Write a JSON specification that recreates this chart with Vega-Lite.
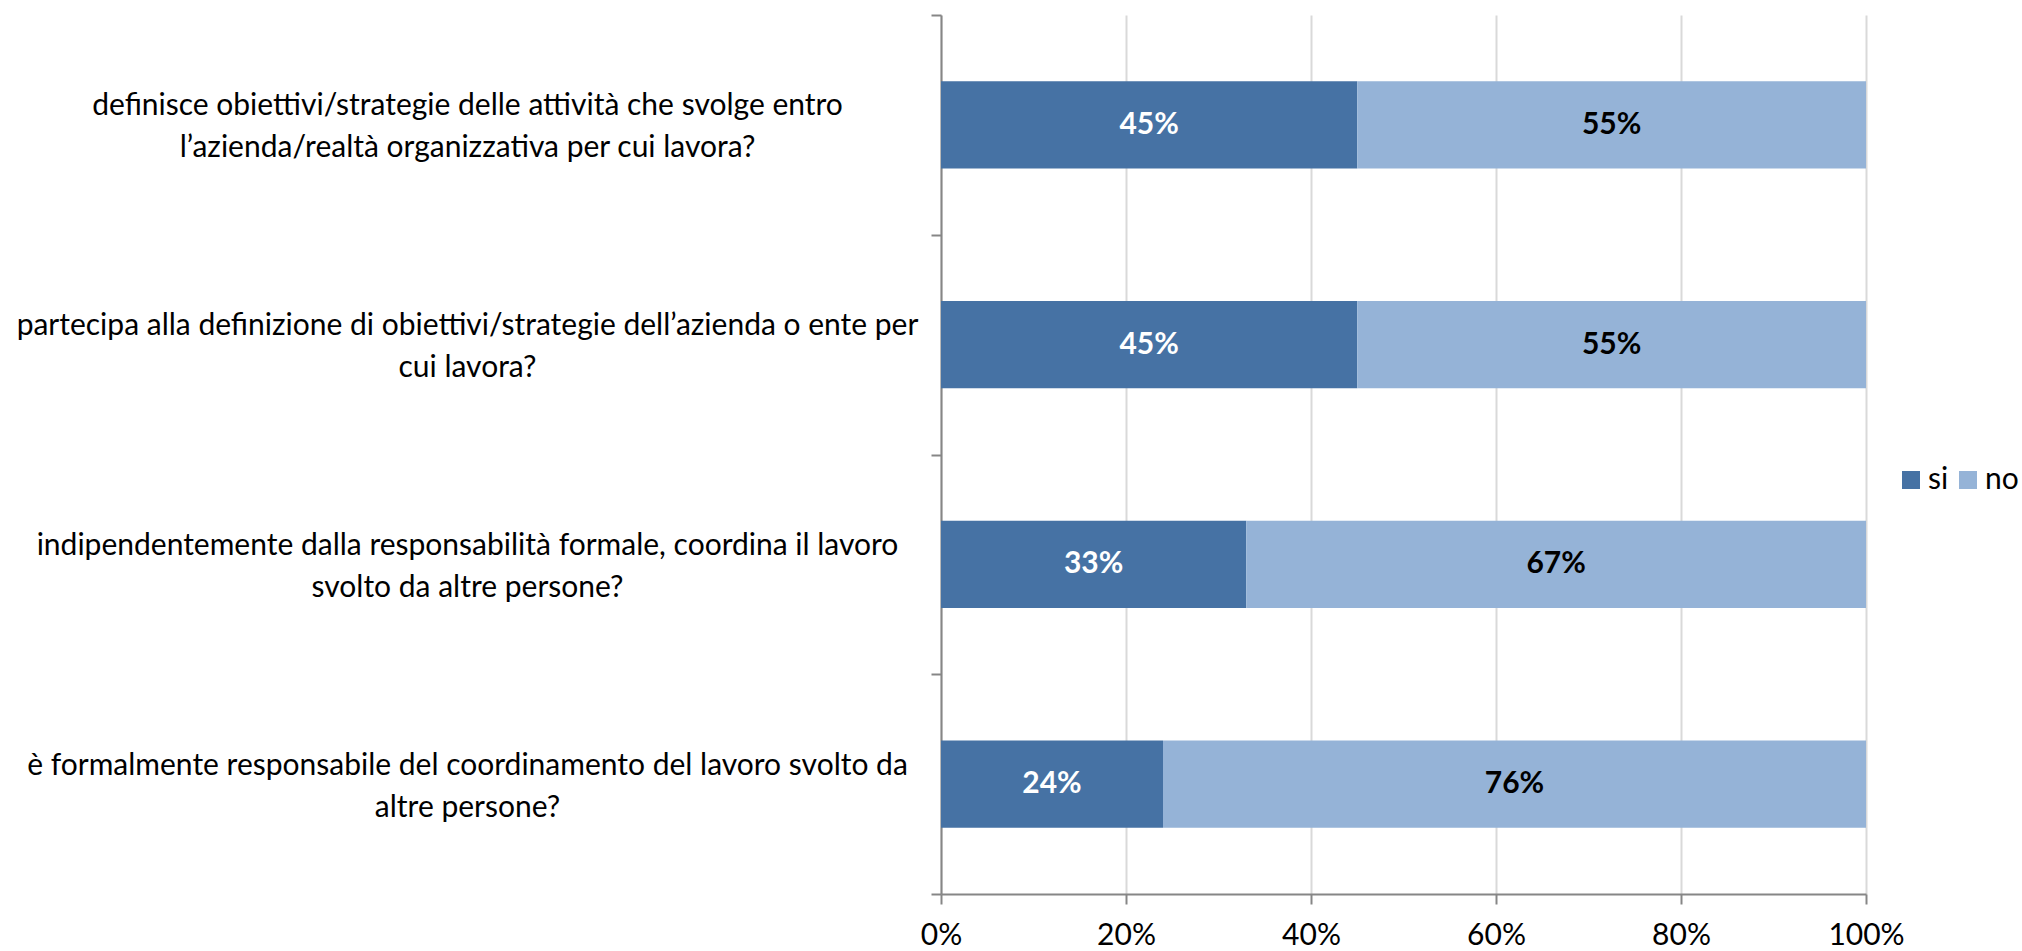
{
  "$schema": "https://vega.github.io/schema/vega-lite/v6.json",
  "autosize": "none",
  "width": 925,
  "height": 879,
  "padding": {"left": 941, "top": 15, "right": 156, "bottom": 57},
  "background": "white",
  "config": {
    "view": {"stroke": null},
    "font": "Lato"
  },
  "data": {
    "values": [
      {"question": "definisce obiettivi/strategie delle attività che svolge entro\nl’azienda/realtà organizzativa per cui lavora?", "answer": "si", "value": 0.45},
      {"question": "definisce obiettivi/strategie delle attività che svolge entro\nl’azienda/realtà organizzativa per cui lavora?", "answer": "no", "value": 0.55},
      {"question": "partecipa alla definizione di obiettivi/strategie dell’azienda o ente per\ncui lavora?", "answer": "si", "value": 0.45},
      {"question": "partecipa alla definizione di obiettivi/strategie dell’azienda o ente per\ncui lavora?", "answer": "no", "value": 0.55},
      {"question": "indipendentemente dalla responsabilità formale, coordina il lavoro\nsvolto da altre persone?", "answer": "si", "value": 0.33},
      {"question": "indipendentemente dalla responsabilità formale, coordina il lavoro\nsvolto da altre persone?", "answer": "no", "value": 0.67},
      {"question": "è formalmente responsabile del coordinamento del lavoro svolto da\naltre persone?", "answer": "si", "value": 0.24},
      {"question": "è formalmente responsabile del coordinamento del lavoro svolto da\naltre persone?", "answer": "no", "value": 0.76}
    ]
  },
  "transform": [
    {"calculate": "datum.answer === 'si' ? 0 : 1", "as": "ord"},
    {"stack": "value", "groupby": ["question"], "sort": [{"field": "ord", "order": "ascending"}], "as": ["x0", "x1"]},
    {"calculate": "(datum.x0 + datum.x1) / 2", "as": "mid"}
  ],
  "encoding": {
    "y": {
      "field": "question",
      "type": "nominal",
      "sort": null,
      "title": null,
      "scale": {"paddingInner": 0, "paddingOuter": 0},
      "axis": {
        "domainColor": "#868686",
        "domainWidth": 2,
        "tickColor": "#868686",
        "tickWidth": 2,
        "tickSize": 10,
        "tickBand": "extent",
        "labelExpr": "isValid(datum.value) ? split(datum.value, '\\n') : ''",
        "labelAlign": "center",
        "labelBaseline": "middle",
        "labelLineHeight": 42,
        "labelOffset": -19,
        "labelPadding": 464,
        "labelLimit": 2000,
        "labelFontSize": 30,
        "labelColor": "#000000"
      }
    }
  },
  "layer": [
    {
      "mark": {"type": "bar", "height": {"band": 0.396}},
      "encoding": {
        "x": {
          "field": "x0",
          "type": "quantitative",
          "scale": {"domain": [0, 1], "nice": false},
          "title": null,
          "axis": {
            "format": ".0%",
            "values": [0, 0.2, 0.4, 0.6, 0.8, 1],
            "grid": true,
            "gridColor": "#D9D9D9",
            "gridWidth": 2,
            "domainColor": "#868686",
            "domainWidth": 2,
            "tickColor": "#868686",
            "tickWidth": 2,
            "tickSize": 10,
            "labelPadding": 16,
            "labelFontSize": 30,
            "labelColor": "#000000",
            "labelFlush": false
          }
        },
        "x2": {"field": "x1"},
        "color": {
          "field": "answer",
          "type": "nominal",
          "sort": ["si", "no"],
          "scale": {"domain": ["si", "no"], "range": ["#4672A4", "#95B3D7"]},
          "legend": {
            "title": null,
            "orient": "none",
            "legendX": 955,
            "legendY": 450,
            "direction": "horizontal",
            "symbolType": "square",
            "symbolSize": 324,
            "symbolStrokeWidth": 0,
            "labelFontSize": 30,
            "labelColor": "#000000",
            "columnPadding": 4,
            "labelOffset": 2
          }
        }
      }
    },
    {
      "mark": {"type": "text", "fontWeight": "bold", "fontSize": 30, "baseline": "middle", "align": "center"},
      "encoding": {
        "x": {"field": "mid", "type": "quantitative"},
        "text": {"field": "value", "type": "quantitative", "format": ".0%"},
        "color": {
          "condition": {"test": "datum.answer === 'si'", "value": "#FFFFFF"},
          "value": "#000000"
        }
      }
    }
  ]
}
